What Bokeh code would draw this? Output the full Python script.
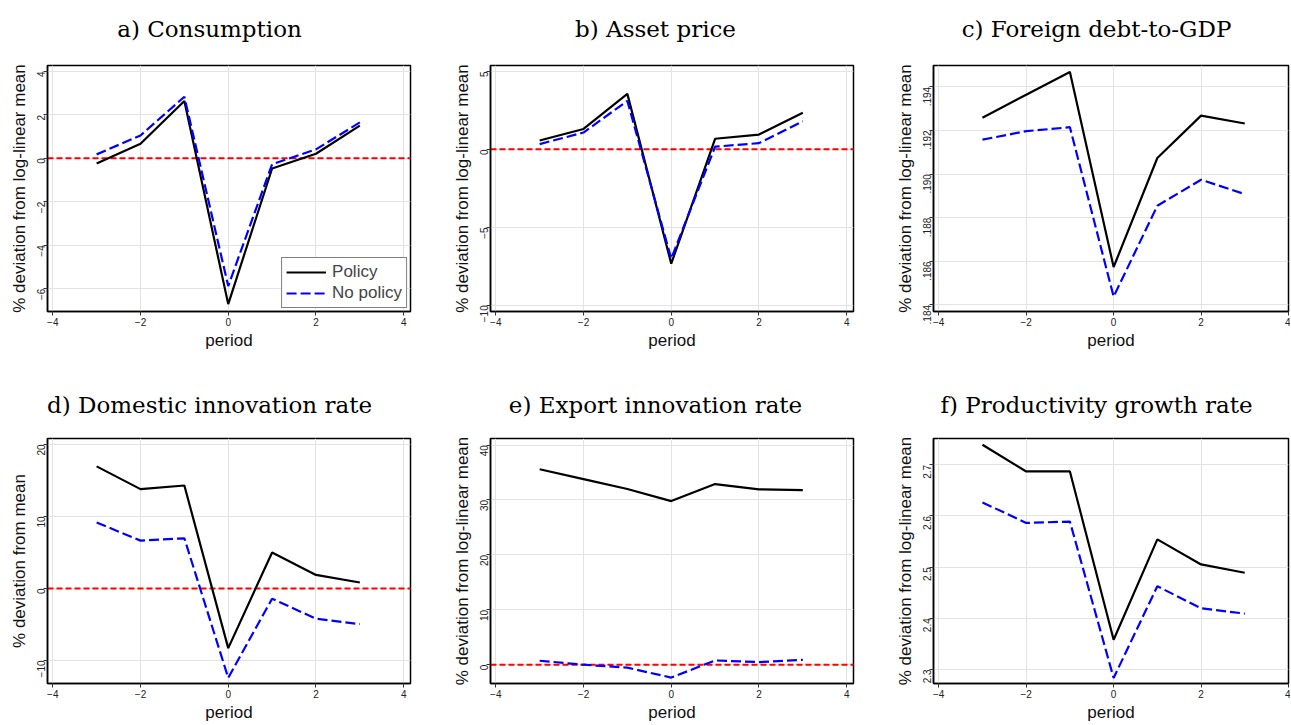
import math
from bokeh.plotting import figure
from bokeh.layouts import column, row
from bokeh.models import (Span, FixedTicker, CustomJSTickFormatter, Range1d,
                          Legend, LegendItem, ColumnDataSource)
from bokeh.core.properties import value
from bokeh.embed import file_html
from bokeh.resources import INLINE

# ---------------- data ----------------
periods = [-3, -2, -1, 0, 1, 2, 3]

cons_policy = [-0.24, 0.67, 2.64, -6.71, -0.47, 0.21, 1.50]
cons_nopolicy = [0.18, 1.05, 2.83, -5.88, -0.27, 0.41, 1.65]

asset_policy = [0.57, 1.31, 3.56, -7.33, 0.68, 0.95, 2.35]
asset_nopolicy = [0.34, 1.08, 3.11, -7.01, 0.17, 0.40, 1.80]

debt_policy = [0.19258, 0.19364, 0.19468, 0.18574, 0.19074, 0.19268, 0.19232]
debt_nopolicy = [0.19158, 0.19197, 0.19215, 0.18438, 0.18855, 0.18974, 0.18908]

dom_policy = [16.95, 13.79, 14.29, -8.29, 4.99, 1.88, 0.82]
dom_nopolicy = [9.16, 6.64, 6.96, -12.41, -1.42, -4.21, -4.95]

exp_policy = [35.6, 33.8, 32.0, 29.8, 32.9, 31.95, 31.8]
exp_nopolicy = [0.72, 0.0, -0.54, -2.34, 0.78, 0.48, 0.90]

prod_policy = [2.7394, 2.6871, 2.6871, 2.358, 2.5542, 2.5052, 2.489]
prod_nopolicy = [2.6265, 2.5865, 2.589, 2.2832, 2.4626, 2.4194, 2.409]

x_ticks = [-4, -2, 0, 2, 4]
cons_ticks = [-6, -4, -2, 0, 2, 4]
asset_ticks = [-10, -5, 0, 5]
debt_ticks = [0.184, 0.186, 0.188, 0.190, 0.192, 0.194]
dom_ticks = [-10, 0, 10, 20]
exp_ticks = [0, 10, 20, 30, 40]
prod_ticks = [2.3, 2.4, 2.5, 2.6, 2.7]

titles_top = ["a) Consumption", "b) Asset price", "c) Foreign debt-to-GDP"]
titles_bottom = ["d) Domestic innovation rate", "e) Export innovation rate",
                 "f) Productivity growth rate"]
ylab_main = "% deviation from log-linear mean"
ylab_dom = "% deviation from mean"
legend_labels = ["Policy", "No policy"]

SANS = "Liberation Sans"
SERIF = "DejaVu Serif"

TOTAL_W = 1290
# column geometry: (width, border_left, border_right, x_end, title_center)
cols = [
    (440, 47, 30, 4.155, 209),
    (430, 50, 17, 4.155, 655),
    (420, 63, 2, 4.0, 1096),
]
# title strips: (height, text anchor px above strip bottom)
strips = [(58, 30), (57, 26)]
# panel row geometry: (height, border_top, border_bottom)
rows_geo = [
    (315, 7, 62),
    (294, 8, 40),
]


def title_strip(ri, texts):
    h, base = strips[ri]
    s = figure(width=TOTAL_W, height=h, output_backend="svg", toolbar_location=None,
               x_range=Range1d(0, TOTAL_W), y_range=Range1d(0, h),
               x_axis_location=None, y_axis_location=None,
               min_border=0, min_border_left=0, min_border_right=0,
               min_border_top=0, min_border_bottom=0)
    s.grid.visible = False
    s.outline_line_color = None
    s.background_fill_color = "white"
    s.border_fill_color = "white"
    src = ColumnDataSource(dict(x=[c[4] for c in cols], y=[base] * 3, t=texts))
    s.text(x="x", y="y", text="t", source=src, text_font=value(SERIF),
           text_font_size="23px", text_align="center", text_baseline="alphabetic",
           text_color="black")
    return s


def make(idx, ylabel, pol, nopol, yticks, yrange, fmt=None, zero=True, legend=False):
    ci = idx % 3
    ri = idx // 3
    w, bl, br, xend, _ = cols[ci]
    h, bt, bb = rows_geo[ri]
    p = figure(width=w, height=h, output_backend="svg", toolbar_location=None,
               x_range=Range1d(-4.12, xend), y_range=Range1d(*yrange),
               min_border_left=bl, min_border_right=br,
               min_border_top=bt, min_border_bottom=bb)
    p.background_fill_color = "white"
    p.border_fill_color = "white"
    p.outline_line_color = "black"
    p.outline_line_width = 1.5

    p.xaxis.ticker = FixedTicker(ticks=x_ticks)
    p.yaxis.ticker = FixedTicker(ticks=yticks)
    if fmt is not None:
        p.yaxis.formatter = fmt
    for ax in (p.xaxis[0], p.yaxis[0]):
        ax.axis_line_color = "black"
        ax.axis_line_width = 1.5
        ax.major_tick_line_color = "#333333"
        ax.major_tick_out = 4
        ax.major_tick_in = 0
        ax.minor_tick_line_color = None
        ax.major_label_text_font = SANS
        ax.major_label_text_font_size = "10px"
        ax.major_label_text_color = "#222222"
        ax.major_label_standoff = 2
        ax.axis_label_text_font = SANS
        ax.axis_label_text_font_size = "17px"
        ax.axis_label_text_font_style = "normal"
        ax.axis_label_text_color = "#111111"
        ax.axis_label_standoff = 2
    p.xaxis.axis_label = "period"
    p.yaxis.axis_label = ylabel
    p.yaxis.major_label_orientation = math.pi / 2

    p.xgrid.grid_line_color = "#e3e3e3"
    p.ygrid.grid_line_color = "#e3e3e3"
    p.xgrid.grid_line_width = 1
    p.ygrid.grid_line_width = 1

    if zero:
        p.add_layout(Span(location=0, dimension="width", line_color="#ff0000",
                          line_width=2, line_dash="6 3", level="underlay"))

    r1 = p.line(periods, pol, line_color="black", line_width=2.2)
    r2 = p.line(periods, nopol, line_color="#0000ff", line_width=2.2, line_dash="10 4")

    if legend:
        lg = Legend(items=[LegendItem(label=legend_labels[0], renderers=[r1]),
                           LegendItem(label=legend_labels[1], renderers=[r2])],
                    location="bottom_right")
        lg.border_line_color = "black"
        lg.border_line_width = 1
        lg.label_text_font = SANS
        lg.label_text_font_size = "17px"
        lg.glyph_width = 40
        lg.glyph_height = 20
        lg.label_height = 20
        lg.label_standoff = 6
        lg.padding = 4
        lg.spacing = 1
        lg.margin = 3
        lg.background_fill_alpha = 1.0
        p.add_layout(lg)
    return p


fmt_debt = CustomJSTickFormatter(code="return tick.toFixed(3).replace(/^0/, '');")
fmt_prod = CustomJSTickFormatter(code="return tick.toFixed(1);")

pa = make(0, ylab_main, cons_policy, cons_nopolicy, cons_ticks, (-7.05, 4.27), legend=True)
pb = make(1, ylab_main, asset_policy, asset_nopolicy, asset_ticks, (-10.4, 5.38))
pc = make(2, ylab_main, debt_policy, debt_nopolicy, debt_ticks, (0.1837, 0.19498),
          fmt=fmt_debt, zero=False)
pd_ = make(3, ylab_dom, dom_policy, dom_nopolicy, dom_ticks, (-13.2, 20.82))
pe = make(4, ylab_main, exp_policy, exp_nopolicy, exp_ticks, (-3.42, 41.2))
pf = make(5, ylab_main, prod_policy, prod_nopolicy, prod_ticks, (2.2723, 2.7516),
          fmt=fmt_prod, zero=False)

layout = column(title_strip(0, titles_top), row(pa, pb, pc),
                title_strip(1, titles_bottom), row(pd_, pe, pf))

open("out.html", "w").write(file_html(layout, INLINE))
